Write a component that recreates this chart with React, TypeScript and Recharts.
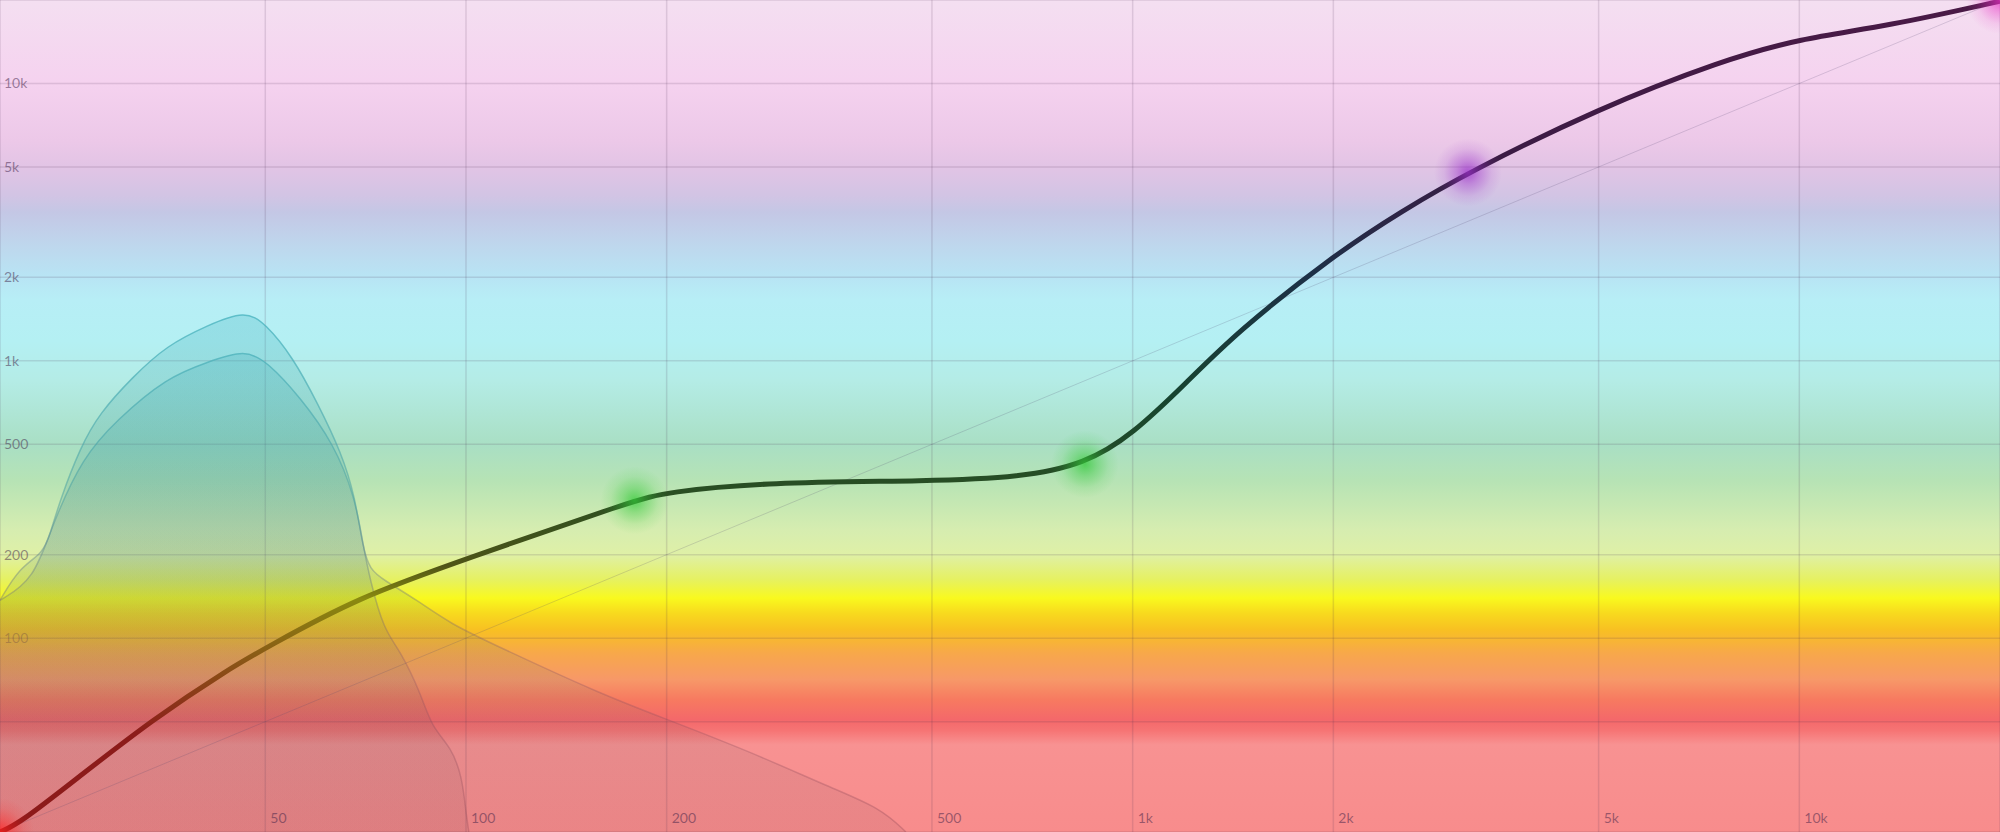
import {
  ComposedChart,
  XAxis,
  YAxis,
  CartesianGrid,
  Area,
  Line,
  Scatter,
  ReferenceLine,
} from "recharts";

// curve (frequency in Hz -> mapped value)
const curveFreq = [20, 21.4, 26, 33.9, 44.3, 50, 68.7, 100, 179, 200, 281, 500, 678, 848, 1000, 1202, 1433, 2000, 2543, 3184, 5000, 7653, 10000, 13584, 20000];
const curveValue = [20, 21.5, 31, 51, 78, 92, 140, 193, 314, 336, 365, 368, 380, 424, 543, 830, 1268, 2400, 3487, 4777, 8130, 12100, 14500, 16100, 19800];

// outer histogram (long tail)
const outerFreq = [20, 21.4, 23.2, 23.8, 24.6, 26.4, 28.2, 31.6, 35.6, 41, 46.6, 50, 55, 59.9, 65.1, 68.2, 70, 71.8, 75.3, 84.5, 94.5, 112, 159, 200, 270, 351, 419, 457];
const outerValue = [137, 180, 202, 239, 314, 488, 647, 873, 1138, 1343, 1520, 1365, 1030, 703, 464, 322, 213, 176, 162, 137, 113, 93, 63, 51, 38.5, 29, 24.4, 20];

// inner histogram
const innerFreq = [20, 22.5, 24, 26.6, 29.9, 35.6, 41, 46.6, 50.4, 56.4, 63.3, 68.2, 70, 71.8, 75.3, 79.6, 85.6, 88.8, 95, 98.7, 100, 101];
const innerValue = [137, 162, 260, 449, 611, 873, 990, 1100, 990, 739, 505, 322, 220, 162, 107, 90.6, 63, 47.8, 40.5, 31.6, 23.4, 20];

// control points
const pointFreq = [20, 179, 848, 3184, 20000];
const pointValue = [20, 314, 424, 4777, 20000];
const pointColor = ["#ff1f1f", "#33c938", "#33c938", "#9a2fc9", "#e92fc4"];

const xTicks = [50, 100, 200, 500, 1000, 2000, 5000, 10000];
const yTicks = [50, 100, 200, 500, 1000, 2000, 5000, 10000];
const yLabelled = [100, 200, 500, 1000, 2000, 5000, 10000];

const curveData = curveFreq.map((f, i) => ({ f, v: curveValue[i] }));
const outerData = outerFreq.map((f, i) => ({ f, v: outerValue[i] }));
const innerData = innerFreq.map((f, i) => ({ f, v: innerValue[i] }));
const pointData = pointFreq.map((f, i) => ({ f, v: pointValue[i], i }));

const W = 2000;
const H = 832;

const fmt = (v: number) => (v >= 1000 ? `${v / 1000}k` : `${v}`);

const labelStyle = {
  fontFamily: "Lato, 'Noto Sans', sans-serif",
  fontSize: 14,
  fill: "rgba(60, 30, 70, 0.5)",
};

const XTick = (props: any) => (
  <text x={props.x + 5} y={props.y - 9} textAnchor="start" style={labelStyle}>
    {fmt(props.payload.value)}
  </text>
);

const YTick = (props: any) => {
  const v = props.payload.value;
  if (!yLabelled.includes(v)) return <g />;
  return (
    <text
      x={props.x + 4}
      y={props.y + 5}
      textAnchor="start"
      style={{ ...labelStyle, fillOpacity: v === 100 ? 0.5 : 1 }}
    >
      {fmt(v)}
    </text>
  );
};

const Glow = (props: any) => {
  const { cx, cy, payload } = props;
  return <circle cx={cx} cy={cy} r={34} fill={`url(#glow${payload.i})`} />;
};

const bgStops: [number, string][] = [
  [0, "#f4dff1"],
  [0.1, "#f5d2ef"],
  [0.17, "#ecc8e8"],
  [0.2, "#e2c4e5"],
  [0.235, "#d2c4e4"],
  [0.255, "#c4c7e5"],
  [0.29, "#bfd5ec"],
  [0.332, "#b8e4f4"],
  [0.36, "#b7eef6"],
  [0.41, "#b4f0f3"],
  [0.457, "#b4ece6"],
  [0.535, "#a9dfc4"],
  [0.577, "#b6e3b5"],
  [0.637, "#d6edb0"],
  [0.667, "#dff0a6"],
  [0.697, "#e6f160"],
  [0.719, "#f9f91e"],
  [0.737, "#f8da1e"],
  [0.757, "#f8c022"],
  [0.785, "#f7a84a"],
  [0.817, "#f79868"],
  [0.841, "#f77a60"],
  [0.865, "#f4686a"],
  [0.878, "#f67474"],
  [0.895, "#f89292"],
  [1, "#f88c8c"],
];

export default function App() {
  return (
    <div style={{ position: "fixed", left: 0, top: 0, width: W, height: H }}>
      <ComposedChart
        width={W}
        height={H}
        margin={{ top: 0, right: 0, bottom: -1, left: -1 }}
      >
        <defs>
          <linearGradient id="bg" x1="0" y1="0" x2="0" y2="1">
            {bgStops.map(([o, c]) => (
              <stop key={o} offset={o} stopColor={c} />
            ))}
          </linearGradient>
          <linearGradient id="curveStroke" gradientUnits="userSpaceOnUse" x1="0" y1="0" x2="0" y2={H}>
            <stop offset="0" stopColor="#4a1a46" />
            <stop offset="0.2" stopColor="#3a1c44" />
            <stop offset="0.33" stopColor="#1d3047" />
            <stop offset="0.48" stopColor="#17442f" />
            <stop offset="0.6" stopColor="#2b4f22" />
            <stop offset="0.68" stopColor="#4f5416" />
            <stop offset="0.72" stopColor="#8a8a10" />
            <stop offset="0.8" stopColor="#8a5216" />
            <stop offset="0.88" stopColor="#8c1c1a" />
            <stop offset="1" stopColor="#8c1a1a" />
          </linearGradient>
          <linearGradient id="areaFill" gradientUnits="userSpaceOnUse" x1="0" y1="0" x2="0" y2={H}>
            <stop offset="0.3" stopColor="#3ab8cc" stopOpacity={0.28} />
            <stop offset="0.55" stopColor="#3a9aa0" stopOpacity={0.2} />
            <stop offset="0.75" stopColor="#4a6a70" stopOpacity={0.12} />
            <stop offset="1" stopColor="#503040" stopOpacity={0.08} />
          </linearGradient>
          <linearGradient id="areaStroke" gradientUnits="userSpaceOnUse" x1="0" y1="0" x2="0" y2={H}>
            <stop offset="0.3" stopColor="#4cbccc" stopOpacity={0.9} />
            <stop offset="0.6" stopColor="#4aa0a0" stopOpacity={0.5} />
            <stop offset="0.8" stopColor="#8a5060" stopOpacity={0.3} />
            <stop offset="1" stopColor="#8a4050" stopOpacity={0.3} />
          </linearGradient>
          {pointColor.map((c, i) => (
            <radialGradient key={i} id={`glow${i}`}>
              <stop offset="0" stopColor={c} stopOpacity={0.75} />
              <stop offset="0.35" stopColor={c} stopOpacity={0.4} />
              <stop offset="0.7" stopColor={c} stopOpacity={0.12} />
              <stop offset="1" stopColor={c} stopOpacity={0} />
            </radialGradient>
          ))}
        </defs>
        <CartesianGrid
          fill="url(#bg)"
          fillOpacity={1}
          stroke="rgba(70, 40, 80, 0.14)"
          strokeWidth={1.5}
        />
        <XAxis
          dataKey="f"
          type="number"
          scale="log"
          domain={[20, 20000]}
          ticks={xTicks}
          allowDataOverflow
          height={1}
          axisLine={false}
          tickLine={false}
          tickSize={0}
          tickMargin={0}
          interval={0}
          tick={XTick}
        />
        <YAxis
          dataKey="v"
          type="number"
          scale="log"
          domain={[20, 20000]}
          ticks={yTicks}
          allowDataOverflow
          width={1}
          axisLine={false}
          tickLine={false}
          tickSize={0}
          tickMargin={0}
          interval={0}
          tick={YTick}
        />
        <Area
          data={outerData}
          dataKey="v"
          type="basis"
          baseValue={20}
          fill="url(#areaFill)"
          fillOpacity={1}
          stroke="url(#areaStroke)"
          strokeWidth={1.5}
          dot={false}
          activeDot={false}
          isAnimationActive={false}
        />
        <Area
          data={innerData}
          dataKey="v"
          type="basis"
          baseValue={20}
          fill="url(#areaFill)"
          fillOpacity={1}
          stroke="url(#areaStroke)"
          strokeWidth={1.5}
          dot={false}
          activeDot={false}
          isAnimationActive={false}
        />
        <ReferenceLine
          segment={[
            { x: 20, y: 20 },
            { x: 20000, y: 20000 },
          ]}
          stroke="rgba(80, 70, 110, 0.2)"
          strokeWidth={1}
        />
        <Line
          data={curveData}
          dataKey="v"
          type="basis"
          stroke="url(#curveStroke)"
          strokeWidth={5}
          dot={false}
          activeDot={false}
          isAnimationActive={false}
        />
        <Scatter
          data={pointData}
          dataKey="v"
          shape={Glow}
          isAnimationActive={false}
        />
      </ComposedChart>
    </div>
  );
}
